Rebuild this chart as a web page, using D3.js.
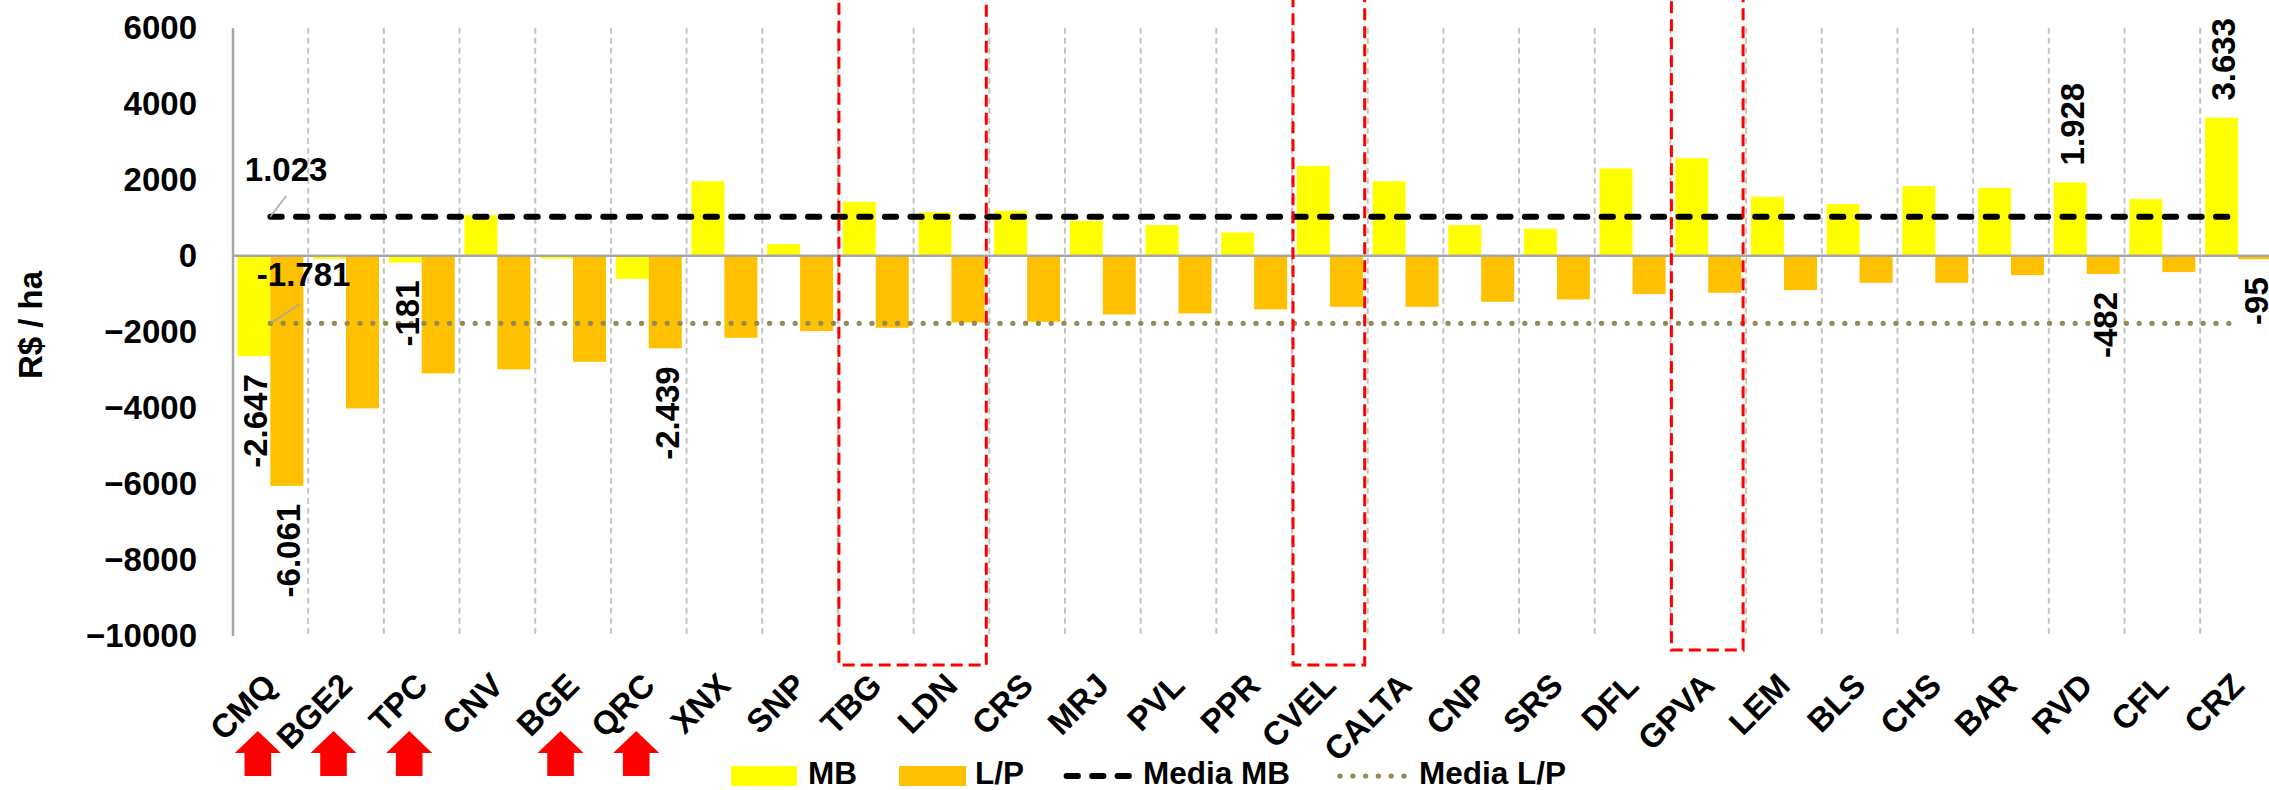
<!DOCTYPE html>
<html><head><meta charset="utf-8">
<script src="https://cdn.jsdelivr.net/npm/d3@7"></script>
<style>
html,body{margin:0;padding:0;background:#fff;overflow:hidden;}
svg{display:block;}
text{font-family:"Liberation Sans",Arial,sans-serif;font-weight:bold;fill:#000;}
</style></head><body>
<svg id="chart" width="2269" height="790"></svg>
<script>
const categories = ["CMQ","BGE2","TPC","CNV","BGE","QRC","XNX","SNP","TBG","LDN","CRS","MRJ","PVL","PPR","CVEL","CALTA","CNP","SRS","DFL","GPVA","LEM","BLS","CHS","BAR","RVD","CFL","CRZ"];
const mbValues = [-2647,-90,-181,1066,-80,-610,1960,303,1416,1140,1180,916,803,610,2363,1960,803,705,2295,2566,1548,1355,1829,1785,1928,1487,3633];
const lpValues = [-6061,-4022,-3100,-2995,-2795,-2439,-2163,-1987,-1900,-1758,-1742,-1548,-1522,-1416,-1347,-1347,-1216,-1153,-1013,-979,-908,-716,-716,-513,-482,-434,-95];
const mediaMB = 1023;
const mediaLP = -1781;
const yTicks = [6000,4000,2000,0,-2000,-4000,-6000,-8000,-10000];
const seriesNames = ["MB","L/P"];
const legendLabels = ["MB","L/P","Media MB","Media L/P"];
const labelledMB = ["CMQ","TPC","RVD","CRZ"];
const labelledLP = ["CMQ","QRC","RVD","CRZ"];
const flagged = ["CMQ","BGE2","TPC","BGE","QRC"];
const highlightGroups = [["TBG","LDN"],["CVEL"],["GPVA"]];
const yTitle = "R$ / ha";

const colors = {MB:"#FFFF00","L/P":"#FFC000"};
const svg = d3.select("#chart");
const loc = d3.formatLocale({decimal:",",thousands:".",grouping:[3],currency:["R$",""],minus:"-"});
const fmt = loc.format(",d");

const plotLeft = 232.5, step = 75.68;
const x = d3.scaleBand().domain(categories).range([plotLeft, plotLeft + step*categories.length]).padding(0);
const bw = x.bandwidth();
const sub = d3.scaleBand().domain(seriesNames).range([0,bw]).paddingInner(0).paddingOuter(0.147);
const y = d3.scaleLinear().domain([-10000,6000]).range([635.5,27.7]);
const yTop = y(6000), yBot = y(-10000);

// vertical dashed gridlines at category boundaries
const bounds = categories.slice(1).map(c=>x(c)).concat([x(categories[categories.length-1])+bw]);
svg.append("g").selectAll("line").data(bounds).join("line")
  .attr("x1",d=>d).attr("x2",d=>d).attr("y1",yTop).attr("y2",yBot)
  .attr("stroke","#C4C4C4").attr("stroke-width",2).attr("stroke-dasharray","6,4");

// bars
const rows = categories.map((c,i)=>({c, MB:mbValues[i], "L/P":lpValues[i]}));
const gBars = svg.append("g");
seriesNames.forEach(s=>{
  gBars.selectAll(null).data(rows).join("rect")
    .attr("x",d=>x(d.c)+sub(s)).attr("width",sub.bandwidth())
    .attr("y",d=>y(Math.max(0,d[s]))).attr("height",d=>Math.abs(y(d[s])-y(0)))
    .attr("fill",colors[s]);
});

// y axis
const yAxis = svg.append("g").attr("transform",`translate(${plotLeft},0)`)
  .call(d3.axisLeft(y).tickValues(yTicks).tickSize(0).tickPadding(35.5).tickSizeOuter(0).tickFormat(d3.format("d")));
yAxis.select(".domain").attr("stroke","#A6A6A6").attr("stroke-width",2.5);
yAxis.selectAll("text").attr("font-size",33).attr("font-family",null).attr("fill","#000");

// zero line
svg.append("line").attr("x1",plotLeft).attr("x2",2300).attr("y1",y(0)).attr("y2",y(0))
  .attr("stroke","#A6A6A6").attr("stroke-width",2.5);

// mean lines
const lineStart = x(categories[0])+bw/2, lineEnd = x(categories[categories.length-1])+bw/2;
svg.append("line").attr("x1",lineStart).attr("x2",lineEnd).attr("y1",y(mediaMB)).attr("y2",y(mediaMB))
  .attr("stroke","#000").attr("stroke-width",5.8).attr("stroke-linecap","round").attr("stroke-dasharray","11.5,14.1");
svg.append("line").attr("x1",lineStart).attr("x2",lineEnd).attr("y1",y(mediaLP)).attr("y2",y(mediaLP))
  .attr("stroke","#948A54").attr("stroke-width",5.2).attr("stroke-linecap","round").attr("stroke-dasharray","0.1,12.7");

// mean labels with leader lines
svg.append("line").attr("x1",lineStart+16).attr("y1",y(mediaMB)-21).attr("x2",lineStart).attr("y2",y(mediaMB))
  .attr("stroke","#A6A6A6").attr("stroke-width",1.5);
svg.append("text").attr("x",lineStart-25.5).attr("y",y(mediaMB)-35.5).attr("font-size",33).text(fmt(mediaMB));
svg.append("line").attr("x1",lineStart+29).attr("y1",y(mediaLP)-19).attr("x2",lineStart).attr("y2",y(mediaLP))
  .attr("stroke","#A6A6A6").attr("stroke-width",1.5);
svg.append("text").attr("x",lineStart-13.5).attr("y",y(mediaLP)-37.5).attr("font-size",33).text(fmt(mediaLP));

// data labels (rotated)
function dataLabels(list, s){
  svg.append("g").selectAll("text").data(rows.filter(r=>list.includes(r.c))).join("text")
    .attr("font-size",33).attr("dy","0.35em")
    .attr("text-anchor",d=>d[s]<0?"end":"start")
    .attr("transform",d=>{
      const cx = x(d.c)+sub(s)+sub.bandwidth()/2+2;
      const yy = d[s]<0 ? y(d[s])+18 : y(d[s])-17;
      return `translate(${cx},${yy}) rotate(-90)`;
    })
    .text(d=>fmt(d[s]));
}
dataLabels(labelledMB,"MB");
dataLabels(labelledLP,"L/P");

// x axis labels
const xAxis = svg.append("g").attr("transform",`translate(0,${yBot})`)
  .call(d3.axisBottom(x).tickSize(0).tickSizeOuter(0));
xAxis.select(".domain").remove();
xAxis.selectAll("text").attr("font-size",33).attr("font-family",null).attr("fill","#000")
  .attr("text-anchor","end").attr("y",0).attr("dy",0)
  .attr("transform","translate(8,52) rotate(-45)");

// y title
svg.append("text").attr("font-size",33).attr("text-anchor","middle").attr("dy","0.35em")
  .attr("transform","translate(30,325) rotate(-90)").text(yTitle);

// red arrows under flagged categories
const arrowTop = 731;
svg.append("g").selectAll("path").data(flagged).join("path")
  .attr("fill","#FF0000")
  .attr("d",c=>{
    const cx = x(c)+bw/2-12.5;
    const p = d3.path();
    p.moveTo(cx, arrowTop); p.lineTo(cx+23, arrowTop+22); p.lineTo(cx+13.3, arrowTop+22);
    p.lineTo(cx+13.3, arrowTop+45); p.lineTo(cx-13.3, arrowTop+45); p.lineTo(cx-13.3, arrowTop+22);
    p.lineTo(cx-23, arrowTop+22); p.closePath();
    return p.toString();
  });

// highlight rectangles
const hlBottoms = [665,665,650];
svg.append("g").selectAll("rect").data(highlightGroups).join("rect")
  .attr("x",(g)=>x(g[0])+1)
  .attr("width",(g)=>x(g[g.length-1])+bw-3-(x(g[0])+1))
  .attr("y",-10).attr("height",(g,i)=>hlBottoms[i]+10)
  .attr("fill","none").attr("stroke","#FF0000").attr("stroke-width",3).attr("stroke-dasharray","12,6");

// legend
const lg = svg.append("g");
const ly = 776, lb = 783.5, lfs = 31.5;
lg.append("rect").attr("x",731).attr("y",766).attr("width",66).attr("height",20).attr("fill",colors.MB);
lg.append("text").attr("x",808).attr("y",lb).attr("font-size",lfs).text(legendLabels[0]);
lg.append("rect").attr("x",899).attr("y",766).attr("width",67).attr("height",20).attr("fill",colors["L/P"]);
lg.append("text").attr("x",975).attr("y",lb).attr("font-size",lfs).text(legendLabels[1]);
lg.append("line").attr("x1",1066.5).attr("x2",1131).attr("y1",ly).attr("y2",ly)
  .attr("stroke","#000").attr("stroke-width",5.8).attr("stroke-linecap","round").attr("stroke-dasharray","11.5,14");
lg.append("text").attr("x",1143).attr("y",lb).attr("font-size",lfs).text(legendLabels[2]);
lg.append("line").attr("x1",1340).attr("x2",1408).attr("y1",ly).attr("y2",ly)
  .attr("stroke","#948A54").attr("stroke-width",5.2).attr("stroke-linecap","round").attr("stroke-dasharray","0.1,12.7");
lg.append("text").attr("x",1419).attr("y",lb).attr("font-size",lfs).text(legendLabels[3]);
</script>
</body></html>
